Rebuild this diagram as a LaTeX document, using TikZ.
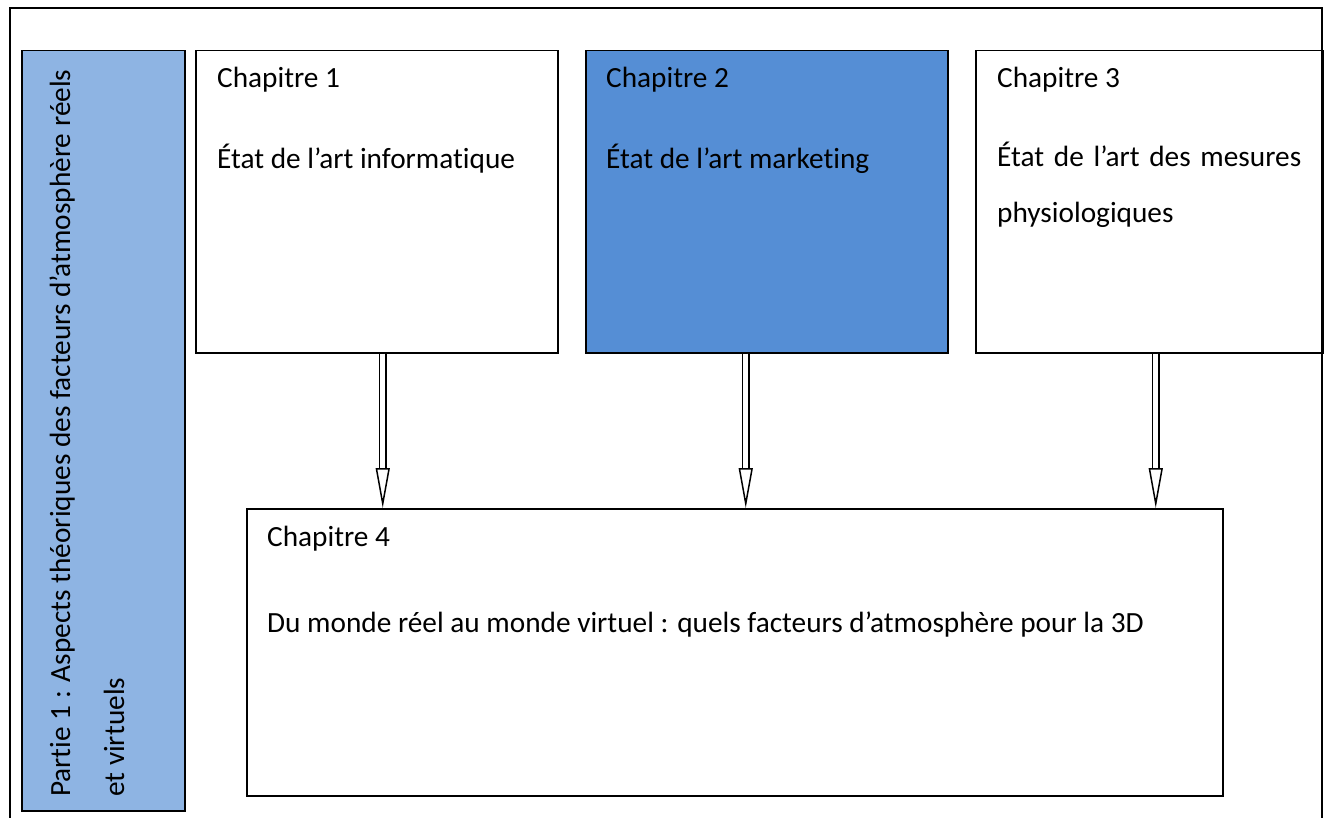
\documentclass[tikz,border=0pt]{standalone}
\usepackage{fontspec}
\setmainfont{Carlito}[Ligatures=NoCommon]
\usetikzlibrary{arrows.meta,positioning}
\definecolor{partblue}{HTML}{8EB4E3}
\definecolor{chapblue}{HTML}{558ED5}

\begin{document}
\begin{tikzpicture}[x=1pt, y=-1pt,
  box/.style={draw, line width=1.5pt, inner sep=0pt, anchor=north west},
  txt/.style={anchor=base west, inner sep=0pt, font=\fontsize{29.3}{34}\selectfont},
  dblarrow/.style={double, double distance=5pt, line width=1.5pt, -{Triangle[open, length=40pt, width=14pt]}}]
\useasboundingbox (0,0) rectangle (1330,818);
\draw[line width=2pt] (10,818) -- (10,8) -- (1322,8) -- (1322,818);

\node[box, fill=partblue, minimum width=163, minimum height=760] (partie) at (21,50) {};
\node[box, minimum width=362, minimum height=302] (ch1) at (195,50) {};
\node[box, fill=chapblue, minimum width=362, minimum height=302] (ch2) at (585,50) {};
\node[box, minimum width=347, minimum height=302] (ch3) at (975,50) {};
\node[box, minimum width=976, minimum height=287] (ch4) at (246,508) {};

\node[txt, rotate=90] (p1) at (70,797) {Partie 1 : Aspects théoriques des facteurs d’atmosphère réels};
\node[txt, rotate=90] (p2) at (124,797) {et virtuels};

\node[txt] (t1) at (217,88) {Chapitre 1};
\node[txt] (d1) at (217,169) {État de l’art informatique};
\node[txt] (t2) at (606,88) {Chapitre 2};
\node[txt] (d2) at (606,169) {État de l’art marketing};
\node[txt] (t3) at (997,88) {Chapitre 3};
\node[txt] (d3) at (997,167) {\makebox[304pt][s]{État de l’art des mesures}};
\node[txt] (d3b) at (997,223) {physiologiques};
\node[txt] (t4) at (267,546) {Chapitre 4};
\node[txt] (d4) at (267,632) {Du monde réel au monde virtuel : quels facteurs d’atmosphère pour la 3D};

\draw[dblarrow] ([xshift=6pt]ch1.south) to ([xshift=6pt]ch1.south |- ch4.north);
\draw[dblarrow] ([xshift=-21pt]ch2.south) to ([xshift=-21pt]ch2.south |- ch4.north);
\draw[dblarrow] ([xshift=6.5pt]ch3.south) to ([xshift=6.5pt]ch3.south |- ch4.north);
\end{tikzpicture}
\end{document}
